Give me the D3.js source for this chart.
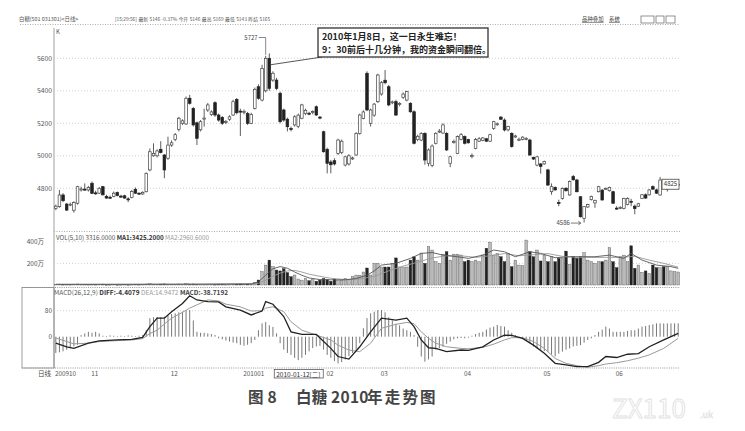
<!DOCTYPE html>
<html><head><meta charset="utf-8">
<script src="https://cdn.jsdelivr.net/npm/d3@7"></script>
<style>
body{margin:0;background:#fff}
svg{display:block}
text{font-family:"Noto Sans CJK SC","Noto Sans","DejaVu Sans",sans-serif;white-space:pre}
</style>
</head><body>
<svg id="c" width="745" height="431"></svg>
<script>
// ---------- data ----------
// daily candles [open, high, low, close]
const candles = [
[4675,4700,4665,4690],[4687,4790,4680,4759],[4759,4770,4715,4724],[4703,4710,4660,4666],[4698,4712,4690,4702],
[4665,4720,4650,4712],[4708,4815,4700,4810],[4792,4810,4780,4796],[4795,4830,4785,4793],[4790,4815,4780,4805],
[4831,4842,4765,4769],[4772,4785,4760,4770],[4770,4808,4765,4800],[4810,4815,4755,4760],[4750,4760,4735,4740],
[4745,4755,4735,4743],[4750,4780,4745,4770],[4774,4780,4750,4755],[4752,4760,4740,4750],[4754,4760,4735,4740],
[4735,4745,4715,4733],[4743,4790,4738,4780],[4794,4805,4765,4770],[4770,4775,4760,4768],[4765,4782,4760,4775],
[4779,4898,4775,4892],[4913,5045,4905,5025],[5000,5077,4995,5015],[5000,5040,4990,5030],[5040,5090,5015,5020],
[5005,5010,4862,4913],[4985,5118,4975,5066],[5066,5095,5055,5080],[5100,5140,5090,5130],[5163,5240,5150,5231],
[5200,5225,5190,5215],[5196,5365,5190,5354],[5354,5375,5315,5323],[5292,5300,5180,5190],[5203,5210,5066,5108],
[5160,5220,5150,5210],[5228,5290,5180,5232],[5282,5325,5270,5313],[5255,5280,5245,5270],[5327,5335,5240,5251],
[5251,5260,5210,5220],[5236,5245,5190,5200],[5208,5220,5195,5212],[5225,5250,5215,5240],[5251,5345,5245,5333],
[5347,5355,5255,5265],[5275,5290,5122,5270],[5268,5285,5255,5272],[5260,5270,5190,5200],[5200,5265,5195,5255],
[5292,5420,5285,5409],[5425,5440,5345,5354],[5343,5560,5335,5538],[5400,5615,5390,5600],[5600,5630,5400,5415],
[5466,5520,5455,5508],[5466,5480,5405,5415],[5385,5395,5200,5210],[5282,5290,5210,5220],[5225,5235,5150,5179],
[5168,5180,5150,5163],[5190,5250,5180,5240],[5180,5260,5170,5250],[5231,5320,5225,5313],[5260,5290,5250,5280],
[5262,5270,5250,5258],[5268,5280,5255,5272],[5302,5310,5245,5251],[5238,5245,5225,5233],[5148,5155,5020,5025],
[5040,5050,4892,4954],[4962,4975,4892,4945],[4970,4985,4940,4950],[5015,5105,5005,5097],[5020,5100,5010,5090],
[4943,5000,4935,4994],[4950,5010,4940,5000],[4985,4995,4975,4987],[5005,5145,5000,5138],[5138,5260,5130,5251],
[5230,5280,5225,5270],[5508,5520,5275,5282],[5200,5290,5180,5282],[5250,5325,5240,5318],[5333,5505,5325,5497],
[5380,5460,5370,5450],[5465,5528,5440,5450],[5425,5435,5305,5313],[5328,5340,5318,5332],[5333,5345,5245,5251],
[5318,5330,5305,5322],[5360,5390,5350,5380],[5343,5400,5335,5395],[5323,5330,5265,5271],[5271,5280,5070,5077],
[5100,5130,5090,5120],[5097,5145,5090,5138],[5138,5145,4945,4974],[4954,5045,4935,5036],[4940,5070,4930,5060],
[5077,5145,5070,5138],[5150,5165,5140,5152],[5140,5200,5135,5190],[5138,5145,5030,5036],[4954,5000,4930,4994],
[5085,5100,5075,5088],[5015,5125,5010,5118],[5100,5140,5095,5130],[5118,5125,5070,5077],[5100,5105,5075,5080],
[5000,5015,4985,5002],[5045,5110,5040,5100],[5090,5115,5085,5105],[5095,5115,5090,5110],[5105,5110,5085,5090],
[5090,5135,5085,5130],[5169,5215,5160,5210],[5195,5205,5185,5197],[5238,5245,5220,5225],[5220,5230,5150,5159],
[5160,5185,5150,5180],[5138,5145,5050,5057],[5120,5130,5110,5122],[5100,5112,5090,5102],[5100,5120,5095,5115],
[5105,5115,5095,5107],[5097,5105,5000,5005],[4990,4995,4975,4980],[4943,5000,4935,4994],[4950,4955,4890,4935],
[4950,4970,4945,4965],[4913,4920,4815,4820],[4779,4830,4760,4810],[4805,4812,4785,4790],[4712,4730,4690,4710],
[4738,4805,4730,4800],[4800,4808,4780,4785],[4759,4848,4755,4841],[4872,4882,4848,4852],[4851,4858,4775,4779],
[4748,4752,4620,4625],[4615,4690,4590,4687],[4685,4705,4680,4700],[4730,4755,4725,4750],[4710,4730,4680,4725],
[4779,4815,4775,4810],[4789,4795,4725,4728],[4798,4805,4790,4800],[4785,4810,4780,4805],[4779,4785,4705,4708],
[4678,4690,4668,4677],[4680,4690,4672,4682],[4677,4742,4670,4738],[4700,4745,4695,4738],[4720,4735,4690,4718],
[4690,4700,4640,4675],[4690,4710,4685,4705],[4738,4765,4735,4760],[4760,4768,4735,4740],[4760,4795,4755,4790],
[4810,4818,4790,4795],[4790,4798,4765,4770],[4759,4870,4755,4851],[4820,4830,4805,4815],[4795,4810,4780,4805],
[4805,4825,4800,4818],[4820,4840,4812,4830],[4825,4835,4815,4825]
];
// daily volume (万)
const volumes = [
6,8,5,7,4,6,9,5,6,4,7,5,6,8,4,5,6,4,5,6,4,5,7,5,6,9,12,8,7,9,
10,8,6,7,9,6,12,8,9,7,6,5,7,6,5,6,8,5,6,9,8,10,6,7,8,25,46,123,184,230,
169,138,130,150,115,77,92,55,45,60,40,50,35,45,60,50,35,55,40,45,60,50,77,92,90,120,157,92,200,200,
166,166,166,200,250,166,166,166,230,260,230,295,200,353,323,215,200,285,307,230,285,285,277,215,230,215,230,215,277,340,
396,277,292,261,215,292,169,230,184,178,415,307,261,323,222,276,215,261,215,246,246,313,190,261,246,261,300,230,215,200,
215,215,230,344,215,160,261,276,215,362,154,184,117,130,107,184,160,160,169,169,130,123,120
];
// volume moving averages, read at sample days [day, value]
const volMA1 = [[0,6],[20,6],[40,8],[54,8],[56,30],[58,90],[60,150],[62,170],[64,155],[66,120],[68,90],[70,65],[73,50],[76,48],[80,48],[83,60],[86,90],[88,130],[90,184],[94,200],[98,246],[101,292],[104,300],[107,276],[111,261],[114,246],[118,276],[121,323],[124,307],[127,261],[131,307],[134,292],[138,252],[142,261],[145,261],[149,261],[153,276],[157,246],[159,292],[162,230],[166,184],[170,170],[172,154]];
const volMA2 = [[0,6],[40,7],[56,15],[58,45],[60,80],[62,110],[64,130],[66,135],[68,120],[70,100],[73,80],[76,62],[80,50],[84,55],[88,80],[92,130],[96,175],[100,210],[104,250],[108,270],[112,270],[116,255],[120,270],[124,290],[128,270],[132,280],[136,290],[140,265],[144,255],[148,255],[152,255],[156,255],[160,265],[164,230],[168,200],[172,165]];
// MACD lines read at sample days [day, value]
const diffLine = [[0,-20],[3,-31],[5,-36],[9,-20],[12,-13],[17,-10],[21,-8],[24,-2],[26,31],[28,57],[30,57],[32,77],[35,102],[37,126],[39,113],[42,108],[45,107],[47,92],[51,82],[54,67],[57,79],[58,108],[60,100],[63,62],[65,15],[68,7],[72,7],[76,-36],[78,-61],[81,-69],[84,-31],[87,15],[90,57],[94,51],[97,57],[99,31],[101,-10],[103,-34],[105,-36],[108,-46],[112,-41],[114,-42],[118,-31],[121,-10],[124,5],[126,4],[129,-5],[132,-26],[135,-51],[138,-82],[141,-87],[144,-92],[147,-92],[150,-79],[152,-61],[155,-64],[158,-54],[161,-52],[164,-31],[168,-10],[172,10]];
const deaLine = [[0,-4],[5,-22],[9,-20],[12,-15],[17,-12],[21,-10],[24,-6],[26,10],[28,20],[30,39],[32,57],[35,75],[37,88],[39,98],[42,113],[45,110],[47,100],[51,92],[54,79],[57,80],[58,88],[60,92],[63,77],[65,46],[68,20],[72,5],[76,-10],[78,-26],[81,-41],[84,-46],[87,-20],[90,26],[94,38],[97,44],[99,40],[101,15],[103,-5],[105,-20],[108,-31],[112,-36],[114,-37],[118,-33],[121,-23],[124,-10],[126,-3],[129,-3],[132,-15],[135,-36],[138,-67],[141,-82],[144,-89],[147,-94],[150,-89],[152,-84],[155,-80],[158,-74],[161,-66],[164,-56],[168,-36],[172,-5]];
// MACD histogram, one per day
const macdBars = [
-50,-48,-45,-40,-35,-30,-25,5,10,15,12,15,10,3,2,4,3,2,3,2,4,3,2,3,5,
20,57,60,60,60,62,65,70,72,75,77,80,82,50,15,12,12,10,8,5,-5,-8,-12,-15,-18,
-20,-25,-28,-25,-20,-10,20,41,45,35,30,10,-20,-40,-50,-56,-65,-72,-65,-56,-45,-35,-30,-28,-40,
-56,-65,-75,-82,-78,-70,-60,-50,-40,-20,26,57,72,77,82,82,75,60,50,40,35,25,20,15,5,
-31,-61,-77,-70,-61,-40,-35,-31,-22,-15,-8,-5,-4,-5,-3,3,8,12,15,22,28,31,36,33,31,
20,12,5,-3,-5,-10,-20,-30,-36,-40,-44,-46,-55,-61,-52,-46,-40,-36,-30,-28,-26,-18,-10,-5,5,
15,22,31,25,15,15,15,15,18,20,20,25,31,33,36,38,41,41,41,41,41,41,41
];
const priceTicks = [4800,5000,5200,5400,5600];
const volTicks = [200,400];
const macdTicks = [0,80];
const monthIdx = [0,10,32,52,75,90,113,135,155];
const monthText = ["200910","11","12","201001","02","03","04","05","06"];
const peakLabel = 5727, peakDay = 58;
const lowLabel = 4586, lowDay = 146;
const lastLabel = 4825;
const cursorDay = 61, cursorText = "2010-01-12[二]";
const headerTitle = "白糖(501 031301)<日线>";
const headerItems = ["[15:29:56]","最新","5146","-0.37%","今开","5146","最高","5169","最低","5143","昨结","5165"];
const noteLines = ["2010年1月8日，这一日永生难忘！","9：30前后十几分钟，我的资金瞬间翻倍。"];
const captionParts = ["图 8","白糖","2010","年走势图"];

// ---------- drawing ----------
const svg = d3.select("#c");
const N = candles.length;
const x = d3.scaleBand().domain(d3.range(N)).range([54,680]).paddingInner(0.28).paddingOuter(0.14);
const bw = x.bandwidth();
const xc = i => x(i) + bw/2;
const yP = d3.scaleLinear().domain([4800,5600]).range([188.3,58.3]);
const yV = d3.scaleLinear().domain([0,400]).range([285,241.7]);
const yM = d3.scaleLinear().domain([0,80]).range([336.7,310.7]);
const ink = "#333";

// header
svg.append("text").attr("x",19).attr("y",21).attr("font-size",5.4).attr("fill","#555").text(headerTitle);
{
  const items = svg.selectAll("text.hdr").data(headerItems).join("text").attr("class","hdr")
    .attr("y",21).attr("font-size",4.8).attr("fill","#555").text(d=>d);
  const ws = items.nodes().map(n=>n.getComputedTextLength());
  const total = d3.sum(ws), gap = Math.max(1.5,(265-115-total)/(ws.length-1));
  let cx = 115;
  items.attr("x",(d,i)=>{const v=cx; cx+=ws[i]+gap; return v;});
}
svg.append("text").attr("x",582).attr("y",21).attr("font-size",5.4).attr("fill","#444").attr("text-decoration","underline").text("品种叠加");
svg.append("text").attr("x",609).attr("y",21).attr("font-size",5.4).attr("fill","#444").attr("text-decoration","underline").text("系统");
[[641,13],[656,8],[666,9]].forEach(b=>svg.append("rect").attr("x",b[0]).attr("y",16).attr("width",b[1]).attr("height",7).attr("fill","none").attr("stroke","#666").attr("stroke-width",0.7));
svg.append("line").attr("x1",20).attr("x2",680).attr("y1",24.5).attr("y2",24.5).attr("stroke","#999").attr("stroke-dasharray","1,1.5").attr("stroke-width",0.8);

// panels frame
svg.append("line").attr("x1",54).attr("x2",54).attr("y1",28).attr("y2",368).attr("stroke","#888").attr("stroke-width",0.8);
svg.append("line").attr("x1",54).attr("x2",680).attr("y1",231.5).attr("y2",231.5).attr("stroke","#aaa").attr("stroke-dasharray","1,1.5");
svg.append("line").attr("x1",22).attr("x2",680).attr("y1",287.5).attr("y2",287.5).attr("stroke","#999").attr("stroke-dasharray","1,1.2");
svg.append("rect").attr("x",22).attr("y",287.5).attr("width",32).attr("height",80.5).attr("fill","none").attr("stroke","#888").attr("stroke-width",0.8);
svg.append("line").attr("x1",22).attr("x2",680).attr("y1",368).attr("y2",368).attr("stroke","#999").attr("stroke-dasharray","1,1.2");

// grids
const dot = sel => sel.attr("stroke","#c4c4c4").attr("stroke-dasharray","1,2").attr("stroke-width",0.8);
dot(svg.append("g").selectAll("line").data(priceTicks).join("line").attr("x1",54).attr("x2",680).attr("y1",d=>yP(d)).attr("y2",d=>yP(d)));
dot(svg.append("g").selectAll("line").data(volTicks).join("line").attr("x1",54).attr("x2",680).attr("y1",d=>yV(d)).attr("y2",d=>yV(d)));
dot(svg.append("g").selectAll("line").data([80]).join("line").attr("x1",54).attr("x2",680).attr("y1",d=>yM(d)).attr("y2",d=>yM(d)));

// axes
function styleAxis(g, fs){ g.select(".domain").remove(); g.selectAll("text").attr("font-size",fs).attr("fill","#555").attr("font-family","Liberation Sans, Arial, sans-serif"); }
svg.append("g").attr("transform","translate(53,0)").call(d3.axisLeft(yP).tickValues(priceTicks).tickSize(0).tickPadding(1).tickFormat(d3.format("d"))).call(g=>styleAxis(g,6.8));
svg.append("g").attr("transform","translate(45,0)").call(d3.axisLeft(yV).tickValues(volTicks).tickSize(0).tickPadding(1).tickFormat(d=>d+"万")).call(g=>styleAxis(g,6.5));
svg.append("g").attr("transform","translate(53,0)").call(d3.axisLeft(yM).tickValues(macdTicks).tickSize(0).tickPadding(1).tickFormat(d3.format("d"))).call(g=>styleAxis(g,6.5));
svg.append("text").attr("x",56).attr("y",34).attr("font-size",6).attr("fill","#555").text("K");

// candles
const cg = svg.append("g");
candles.forEach((d,i)=>{
  const [o,h,l,c] = d; const up = c >= o;
  cg.append("line").attr("x1",xc(i)).attr("x2",xc(i)).attr("y1",yP(h)).attr("y2",yP(l)).attr("stroke",ink).attr("stroke-width",0.8);
  const top = yP(Math.max(o,c)), ht = Math.max(1, Math.abs(yP(o)-yP(c)));
  cg.append("rect").attr("x",x(i)).attr("y",top).attr("width",bw).attr("height",ht)
    .attr("fill",up?"#fff":"#222").attr("stroke",up?"#444":"#222").attr("stroke-width",0.7);
});

// peak / low / last labels
const ph = yP(candles[peakDay][1]);
svg.append("text").attr("x",xc(peakDay)-8).attr("y",40).attr("text-anchor","end").attr("font-size",6).attr("fill","#444").text(peakLabel);
svg.append("path").attr("d",`M${xc(peakDay)-7},37.5H${xc(peakDay)}V${ph-1}`).attr("fill","none").attr("stroke","#555").attr("stroke-width",0.7);
const lx = x(lowDay)-2, ly = yP(lowLabel);
svg.append("text").attr("x",lx-11).attr("y",ly+2.2).attr("text-anchor","end").attr("font-size",6).attr("fill","#444").text(lowLabel);
svg.append("line").attr("x1",lx-10).attr("x2",lx).attr("y1",ly).attr("y2",ly).attr("stroke","#444").attr("stroke-width",0.7);
svg.append("path").attr("d",`M${lx-2.5},${ly-1.8}L${lx},${ly}L${lx-2.5},${ly+1.8}`).attr("fill","none").attr("stroke","#444").attr("stroke-width",0.7);
const ly2 = yP(lastLabel);
svg.append("rect").attr("x",662).attr("y",ly2-5).attr("width",17).attr("height",10).attr("fill","#fff").attr("stroke","#444").attr("stroke-width",0.8);
svg.append("text").attr("x",670.5).attr("y",ly2+2.2).attr("text-anchor","middle").attr("font-size",6).attr("fill","#333").text(lastLabel);

// annotation box
svg.append("line").attr("x1",322).attr("y1",57).attr("x2",xc(peakDay+1)+1).attr("y2",yP(5560)).attr("stroke","#444").attr("stroke-width",0.9);
svg.append("rect").attr("x",318).attr("y",28).attr("width",170).attr("height",29).attr("fill","#fff").attr("stroke","#333").attr("stroke-width",1.3);
svg.selectAll("text.note").data(noteLines).join("text").attr("class","note").attr("x",322).attr("y",(d,i)=>40+i*13)
  .attr("font-size",9).attr("font-weight","bold").attr("fill","#222").text(d=>d);

// volume
const vg = svg.append("g");
volumes.forEach((v,i)=>{
  const up = candles[i][3] >= candles[i][0];
  vg.append("rect").attr("x",x(i)).attr("y",yV(v)).attr("width",bw).attr("height",Math.max(0.6,yV(0)-yV(v)))
    .attr("fill",up?"#bbb":"#222").attr("stroke",up?"#555":"#222").attr("stroke-width",0.4);
});
const ln = d3.line().x(d=>xc(d[0])).y(d=>yV(d[1]));
svg.append("path").attr("d",ln(volMA2)).attr("fill","none").attr("stroke","#999").attr("stroke-width",0.9);
svg.append("path").attr("d",ln(volMA1)).attr("fill","none").attr("stroke","#555").attr("stroke-width",0.9);
const vt = svg.append("text").attr("x",56).attr("y",240).attr("font-size",6.3).attr("fill","#555").attr("font-family","Liberation Sans, Arial, sans-serif");
vt.append("tspan").text("VOL(5,10) 3316.0000 ");
vt.append("tspan").attr("font-weight","bold").attr("fill","#333").text("MA1:3425.2000 ");
vt.append("tspan").attr("fill","#999").text("MA2:2960.6000");

// MACD
const mg = svg.append("g");
macdBars.forEach((v,i)=>{
  mg.append("line").attr("x1",xc(i)).attr("x2",xc(i)).attr("y1",yM(0)).attr("y2",yM(v)).attr("stroke","#555").attr("stroke-width",0.8);
});
const ml = d3.line().x(d=>xc(d[0])).y(d=>yM(d[1]));
svg.append("path").attr("d",ml(deaLine)).attr("fill","none").attr("stroke","#999").attr("stroke-width",1);
svg.append("path").attr("d",ml(diffLine)).attr("fill","none").attr("stroke","#222").attr("stroke-width",1.3);
const mt = svg.append("text").attr("x",54).attr("y",294.5).attr("font-size",6.5).attr("fill","#555").attr("font-family","Liberation Sans, Arial, sans-serif");
mt.append("tspan").text("MACD(26,12,9) ");
mt.append("tspan").attr("font-weight","bold").attr("fill","#333").text("DIFF:-4.4079 ");
mt.append("tspan").attr("fill","#999").text("DEA:14.9472 ");
mt.append("tspan").attr("font-weight","bold").attr("fill","#444").text("MACD:-38.7192");

// x labels
svg.append("text").attr("x",38).attr("y",376).attr("font-size",6.5).attr("fill","#444").text("日线");
svg.selectAll("text.mon").data(monthIdx).join("text").attr("class","mon").attr("x",d=>x(d)+0.5).attr("y",376)
  .attr("font-size",6.3).attr("fill","#555").attr("font-family","Liberation Sans, Arial, sans-serif").text((d,i)=>monthText[i]);
svg.append("rect").attr("x",x(cursorDay)-1).attr("y",369.5).attr("width",49).attr("height",8.5).attr("fill","#fff").attr("stroke","#444").attr("stroke-width",0.7);
svg.append("text").attr("x",x(cursorDay)+1).attr("y",376.5).attr("font-size",6.5).attr("fill","#333").text(cursorText);

// caption & watermark
const capX = [248,296,331,367];
svg.selectAll("text.cap").data(captionParts).join("text").attr("class","cap")
  .attr("x",(d,i)=>capX[i]).attr("y",403).attr("font-size",15.5).attr("font-weight","bold").attr("fill","#444")
  .attr("letter-spacing",(d,i)=>i===3?2.2:0.3).text(d=>d);
svg.append("text").attr("x",612).attr("y",418).attr("font-size",26).attr("font-family","Liberation Sans, Arial, sans-serif").attr("fill","none").attr("stroke","#e2e2e2").attr("stroke-width",0.9).text("ZX110");
svg.append("text").attr("x",700).attr("y",418).attr("font-size",9).attr("font-family","Liberation Sans, Arial, sans-serif").attr("fill","none").attr("stroke","#e2e2e2").attr("stroke-width",0.6).text(".uk");
</script>
</body></html>
